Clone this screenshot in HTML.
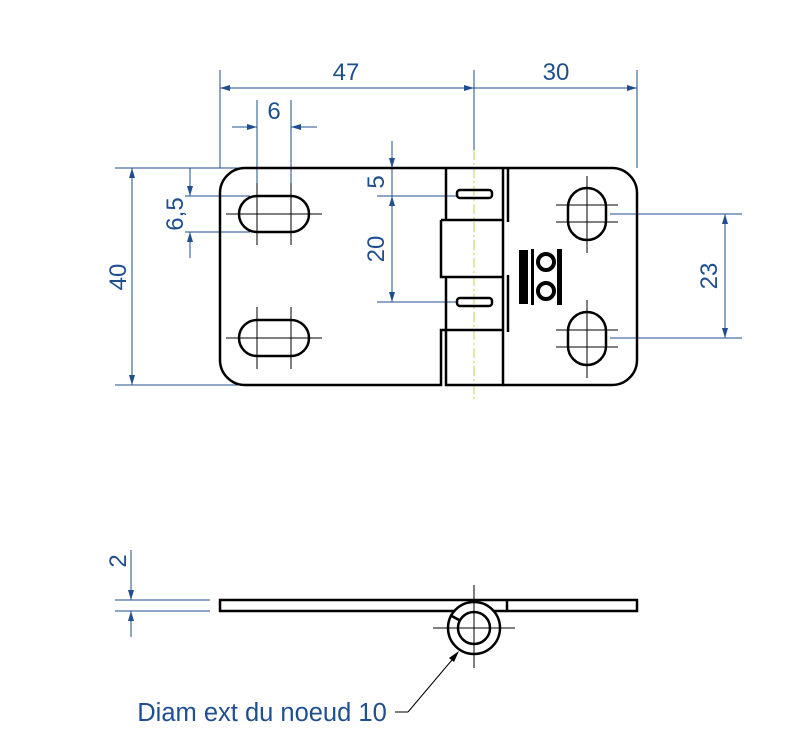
<!DOCTYPE html>
<html><head><meta charset="utf-8"><style>
html,body{margin:0;padding:0;background:#fff;width:796px;height:741px;overflow:hidden}
svg{display:block}
text{font-family:"Liberation Sans",sans-serif;fill:#1f4f8f;font-size:24px;text-anchor:middle}
</style></head><body>
<svg width="796" height="741" viewBox="0 0 796 741" xmlns="http://www.w3.org/2000/svg">
<defs>
<marker id="a" viewBox="0 0 10 6" refX="10" refY="3" markerWidth="11" markerHeight="6" orient="auto-start-reverse" markerUnits="userSpaceOnUse"><path d="M0,0L10,3L0,6z" fill="#1f4f8f"/></marker>
</defs>
<g stroke="#1f4f8f" stroke-width="1" fill="none">
<line x1="220" y1="70" x2="220" y2="168"/>
<line x1="474" y1="70" x2="474" y2="150"/>
<line x1="637" y1="70" x2="637" y2="168"/>
<line x1="220" y1="88" x2="474" y2="88" marker-start="url(#a)" marker-end="url(#a)"/>
<line x1="474" y1="88" x2="637" y2="88" marker-end="url(#a)"/>
<line x1="257" y1="100" x2="257" y2="196"/>
<line x1="291" y1="100" x2="291" y2="196"/>
<line x1="232" y1="127" x2="257" y2="127" marker-end="url(#a)"/>
<line x1="317" y1="127" x2="291" y2="127" marker-end="url(#a)"/>
<line x1="115" y1="168" x2="240" y2="168"/>
<line x1="115" y1="385" x2="245" y2="385"/>
<line x1="132" y1="168" x2="132" y2="385" marker-start="url(#a)" marker-end="url(#a)"/>
<line x1="185" y1="196" x2="250" y2="196"/>
<line x1="185" y1="232" x2="250" y2="232"/>
<line x1="190" y1="168" x2="190" y2="196" marker-end="url(#a)"/>
<line x1="190" y1="258" x2="190" y2="232" marker-end="url(#a)"/>
<line x1="392" y1="141" x2="392" y2="168" marker-end="url(#a)"/>
<line x1="392" y1="168" x2="392" y2="196"/>
<line x1="392" y1="196" x2="392" y2="302" marker-start="url(#a)" marker-end="url(#a)"/>
<line x1="377" y1="196" x2="457" y2="196"/>
<line x1="377" y1="302" x2="457" y2="302"/>
<line x1="610" y1="214" x2="742" y2="214"/>
<line x1="610" y1="338" x2="742" y2="338"/>
<line x1="725" y1="214" x2="725" y2="338" marker-start="url(#a)" marker-end="url(#a)"/>
<line x1="115" y1="600" x2="210" y2="600"/>
<line x1="115" y1="611" x2="210" y2="611"/>
<line x1="131" y1="550" x2="131" y2="600" marker-end="url(#a)"/>
<line x1="131" y1="637" x2="131" y2="611" marker-end="url(#a)"/>
</g>
<g>
<text x="346" y="80">47</text>
<text x="556" y="80">30</text>
<text x="274" y="119">6</text>
<text transform="translate(126,277) rotate(-90)">40</text>
<text transform="translate(183,214) rotate(-90)">6,5</text>
<text transform="translate(384,182) rotate(-90)">5</text>
<text transform="translate(384,249) rotate(-90)">20</text>
<text transform="translate(717,276) rotate(-90)">23</text>
<text transform="translate(126,561) rotate(-90)">2</text>
<text x="262" y="721" style="font-size:25.5px">Diam ext du noeud 10</text>
</g>
<line x1="474" y1="150" x2="474" y2="402" stroke="#b8d84a" stroke-width="1" stroke-dasharray="10,3,2,3"/>
<g stroke="#000" stroke-width="2.5" fill="none">
<path d="M446,168 H245 A25,25 0 0 0 220,193 V360 A25,25 0 0 0 245,385 H441 V330 H503"/>
<path d="M446,168 V220 M441,220 H503 M441,220 V277 H503 M446,277 V330"/>
<path d="M446,330 V385 H503 V168"/>
<path d="M446,168 H503 H612 A25,25 0 0 1 637,193 V360 A25,25 0 0 1 612,385 H503"/>
<path d="M508,168 V222 M508,275 V332"/>
<rect x="457" y="190" width="35" height="8" rx="3"/>
<rect x="457" y="298" width="35" height="8" rx="3"/>
<rect x="239" y="196" width="70" height="36" rx="18"/>
<rect x="239" y="320" width="70" height="36" rx="18"/>
<rect x="568" y="188" width="38" height="52" rx="19"/>
<rect x="568" y="312" width="38" height="53" rx="19"/>
</g>
<g stroke="#000" stroke-width="1">
<line x1="226" y1="214" x2="322" y2="214"/><line x1="257" y1="183" x2="257" y2="245"/><line x1="291" y1="183" x2="291" y2="245"/>
<line x1="226" y1="338" x2="322" y2="338"/><line x1="257" y1="307" x2="257" y2="369"/><line x1="291" y1="307" x2="291" y2="369"/>
<line x1="587" y1="176" x2="587" y2="253"/><line x1="556" y1="205" x2="618" y2="205"/><line x1="556" y1="222" x2="618" y2="222"/>
<line x1="587" y1="300" x2="587" y2="378"/><line x1="556" y1="330" x2="618" y2="330"/><line x1="556" y1="347" x2="618" y2="347"/>
</g>
<g fill="#000">
<rect x="519" y="250" width="9" height="54"/>
<rect x="531" y="249" width="3" height="56"/>
<rect x="557" y="249" width="5" height="56"/>
</g>
<g stroke="#000" stroke-width="4" fill="none">
<circle cx="546" cy="262" r="8"/><circle cx="546" cy="291" r="8"/>
</g>
<g stroke="#000" stroke-width="2.5" fill="none">
<rect x="220" y="600" width="417" height="11"/>
<line x1="507" y1="600" x2="507" y2="611"/>
<circle cx="474" cy="628" r="26" fill="#fff"/>
<circle cx="474" cy="628" r="16"/>
<line x1="450" y1="615" x2="459" y2="620"/>
</g>
<g stroke="#000" stroke-width="1">
<line x1="433" y1="628" x2="515" y2="628"/>
<line x1="474" y1="585" x2="474" y2="668"/>
<line x1="395" y1="712" x2="408" y2="712"/>
<line x1="408" y1="712" x2="457" y2="654"/>
</g>
<path d="M459,651 L449,658 L454,662 z" fill="#000"/>
</svg>
</body></html>
